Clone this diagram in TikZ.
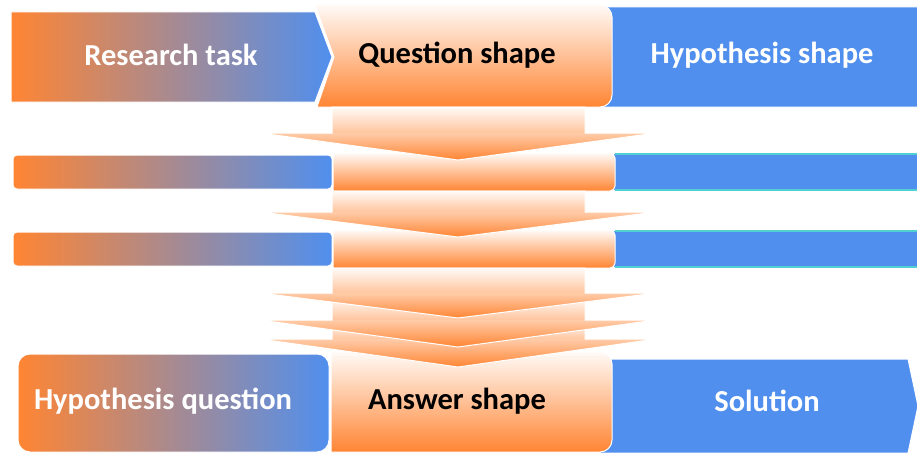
\documentclass[tikz,border=0pt]{standalone}
\usepackage{fontspec}
\setmainfont{Carlito}
\definecolor{orng}{RGB}{255,133,51}
\definecolor{blu}{RGB}{80,143,238}
\definecolor{cyn}{RGB}{80,208,208}
\tikzset{
  hgrad/.style={left color=orng, right color=blu, draw=white, line width=1pt},
  vgrad/.style={top color=orng!4, bottom color=orng, draw=white, line width=1pt},
  bluefill/.style={fill=blu, draw=white, line width=1pt},
  wlabel/.style={text=white, font=\fontsize{30.5}{33}\selectfont\bfseries},
  blabel/.style={text=black, font=\fontsize{30.5}{33}\selectfont\bfseries},
}
\newcommand{\funnelseg}[3]{%
  \path[top color=orng!4, bottom color=orng!48] (332,#1) rectangle (585,#2);
  \path[top color=orng!42, bottom color=orng] (260,#2) -- (656,#2) -- (458,#3) -- cycle;
  \draw[white, line width=1pt] (332,#1) -- (585,#1) -- (585,#2) -- (656,#2) -- (458,#3) -- (260,#2) -- (332,#2) -- cycle;}
\begin{document}
\begin{tikzpicture}[x=1pt,y=-1pt]
\useasboundingbox (0,0) rectangle (917,452);
\begin{scope}
\clip (0,0) rectangle (917,452);
% top row
\path[bluefill] (590,7) [rounded corners=12pt] -- (930,7) -- (930,107) [sharp corners] -- (590,107) -- cycle;
\path[hgrad] (11,12) -- (315,12) -- (332,57) -- (315,102) -- (11,102) -- cycle;
\path[vgrad] (315,5) [rounded corners=12pt] -- (612,5) -- (612,107) [sharp corners] -- (317,107) -- (334,57) -- cycle;
% row 2
\path[fill=blu] (610,154) rectangle (930,190);
\draw[cyn, line width=1.5pt] (615,154) -- (930,154) (615,190) -- (930,190);
\path[hgrad, rounded corners=4pt] (13,155) rectangle (332,189);
\path[vgrad] (333,153) [rounded corners=5pt] -- (615,153) -- (615,191) [sharp corners] -- (333,191) -- cycle;
% row 3
\path[fill=blu] (610,231) rectangle (930,267);
\draw[cyn, line width=1.5pt] (615,231) -- (930,231) (615,267) -- (930,267);
\path[hgrad, rounded corners=4pt] (13,232) rectangle (332,266);
\path[vgrad] (333,230) [rounded corners=5pt] -- (615,230) -- (615,268) [sharp corners] -- (333,268) -- cycle;
% bottom row
\path[bluefill] (600,359) -- (908,359) -- (918,406) -- (908,453) -- (600,453) -- cycle;
\path[hgrad, rounded corners=12pt] (18,354) rectangle (329,452);
\path[vgrad] (331,352) [rounded corners=12pt] -- (612,352) -- (612,452) [sharp corners] -- (331,452) -- cycle;
% funnel segments, drawn bottom first
\funnelseg{322}{339}{367}
\funnelseg{297}{320}{347}
\funnelseg{268}{293}{318}
\funnelseg{191}{212}{237}
\funnelseg{107}{133}{160}
\end{scope}
% labels
\node[wlabel] (rt) at (171,55) {Research task};
\node[blabel] (qs) at (457,55) {Question shape};
\node[wlabel] (hs) at (762,55) {Hypothesis shape};
\node[wlabel] (hq) at (163,401) {Hypothesis question};
\node[blabel] (as) at (457,401) {Answer shape};
\node[wlabel] (so) at (767,401) {Solution};
\end{tikzpicture}
\end{document}
